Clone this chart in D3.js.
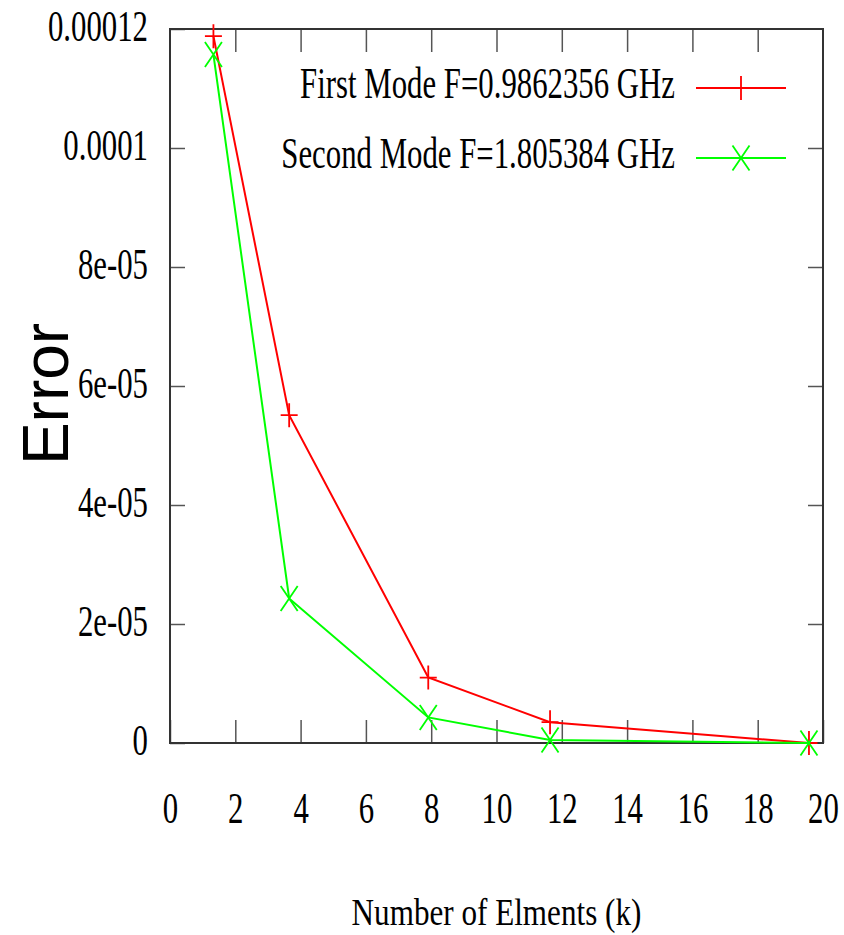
<!DOCTYPE html>
<html>
<head>
<meta charset="utf-8">
<script src="https://cdn.jsdelivr.net/npm/d3@7"></script>
<style>
  body { margin: 0; background: #fff; }
</style>
</head>
<body>
<script>
// values
const elements = [1.33, 3.65, 7.91, 11.64, 19.57]
const firstMode = [0.0001188, 0.0000551, 0.0000110, 0.0000035, 0]
const secondMode = [0.0001157, 0.0000243, 0.0000043, 0.0000005, 0]

const seriesNames = ["First Mode F=0.9862356 GHz", "Second Mode F=1.805384 GHz"]
const seriesColors = ["#ff0000", "#00ff00"]

const xTicks = [0, 2, 4, 6, 8, 10, 12, 14, 16, 18, 20]
const yTicks = [0, 0.00002, 0.00004, 0.00006, 0.00008, 0.0001, 0.00012]
const yTickLabels = ["0", "2e-05", "4e-05", "6e-05", "8e-05", "0.0001", "0.00012"]

const width = 844, height = 935
const plotLeft = 170, plotRight = 823, plotTop = 29, plotBottom = 743
const serif = "'Liberation Serif', 'Times New Roman', serif"
const squeeze = 0.7   // gnuplot text looks horizontally squashed

let x = d3.scaleLinear().domain([0, 20]).range([plotLeft, plotRight])
let y = d3.scaleLinear().domain([0, 0.00012]).range([plotBottom, plotTop])

let svg = d3.select("body").append("svg")
  .attr("width", width)
  .attr("height", height)

// inward ticks on all four sides
function tickStyle(g) {
  g.select(".domain").remove()
  g.selectAll(".tick line").attr("stroke", "#555").attr("stroke-width", 1.5)
}

svg.append("g")
  .attr("transform", `translate(0,${plotBottom})`)
  .call(d3.axisBottom(x).tickValues(xTicks).tickSize(-23))
  .call(tickStyle)
  .call(g => g.selectAll("text")
    .attr("y", 0).attr("dy", null)
    .attr("transform", `translate(0,80) scale(${squeeze},1)`)
    .attr("font-family", serif).attr("font-size", 44).attr("fill", "#000"))

svg.append("g")
  .attr("transform", `translate(0,${plotTop})`)
  .call(d3.axisTop(x).tickValues(xTicks.slice(1, -1)).tickSize(-23).tickFormat(""))
  .call(tickStyle)

svg.append("g")
  .attr("transform", `translate(${plotLeft},0)`)
  .call(d3.axisLeft(y).tickValues(yTicks).tickSize(-15)
    .tickFormat((d, i) => yTickLabels[i]))
  .call(tickStyle)
  .call(g => g.selectAll("text")
    .attr("x", 0).attr("dy", null)
    .attr("transform", `translate(-22,11) scale(${squeeze},1)`)
    .attr("font-family", serif).attr("font-size", 44).attr("fill", "#000"))

svg.append("g")
  .attr("transform", `translate(${plotRight},0)`)
  .call(d3.axisRight(y).tickValues(yTicks.slice(1, -1)).tickSize(-15).tickFormat(""))
  .call(tickStyle)

// frame
svg.append("rect")
  .attr("x", plotLeft).attr("y", plotTop)
  .attr("width", plotRight - plotLeft).attr("height", plotBottom - plotTop)
  .attr("fill", "none")
  .attr("stroke", "#333")
  .attr("stroke-width", 2)

// axis titles
svg.append("text")
  .attr("transform", `translate(${(plotLeft + plotRight) / 2},925) scale(0.82,1)`)
  .attr("text-anchor", "middle")
  .attr("font-family", serif)
  .attr("font-size", 38)
  .text("Number of Elments (k)")

svg.append("text")
  .attr("transform", "translate(68,394) rotate(-90)")
  .attr("text-anchor", "middle")
  .attr("font-family", "'Liberation Sans', Arial, sans-serif")
  .attr("font-size", 64)
  .text("Error")

// series
const markers = [
  "M-8.5,0H8.5M0,-12V12",
  "M-8.5,-12.5L8.5,12.5M-8.5,12.5L8.5,-12.5"
]
const series = [firstMode, secondMode]

let line = d3.line()
  .x(d => x(d[0]))
  .y(d => y(d[1]))

series.forEach((values, s) => {
  let pts = elements.map((e, i) => [e, values[i]])

  svg.append("path")
    .datum(pts)
    .attr("d", line)
    .attr("fill", "none")
    .attr("stroke", seriesColors[s])
    .attr("stroke-width", 2)

  svg.selectAll(null)
    .data(pts)
    .enter()
    .append("path")
    .attr("transform", d => `translate(${x(d[0])},${y(d[1])})`)
    .attr("d", markers[s])
    .attr("fill", "none")
    .attr("stroke", seriesColors[s])
    .attr("stroke-width", 1.8)
})

// legend
let legend = svg.selectAll("g.legendEntry")
  .data(seriesNames)
  .enter()
  .append("g")
  .attr("class", "legendEntry")
  .attr("transform", (d, i) => `translate(0,${88 + i * 70})`)

legend.append("text")
  .attr("transform", `translate(675,10) scale(${squeeze},1)`)
  .attr("text-anchor", "end")
  .attr("font-family", serif)
  .attr("font-size", 44)
  .text(d => d)

legend.append("line")
  .attr("x1", 696).attr("x2", 786)
  .attr("stroke", (d, i) => seriesColors[i])
  .attr("stroke-width", 2)

legend.append("path")
  .attr("transform", "translate(741,0)")
  .attr("d", (d, i) => markers[i])
  .attr("fill", "none")
  .attr("stroke", (d, i) => seriesColors[i])
  .attr("stroke-width", 1.8)
</script>
</body>
</html>
